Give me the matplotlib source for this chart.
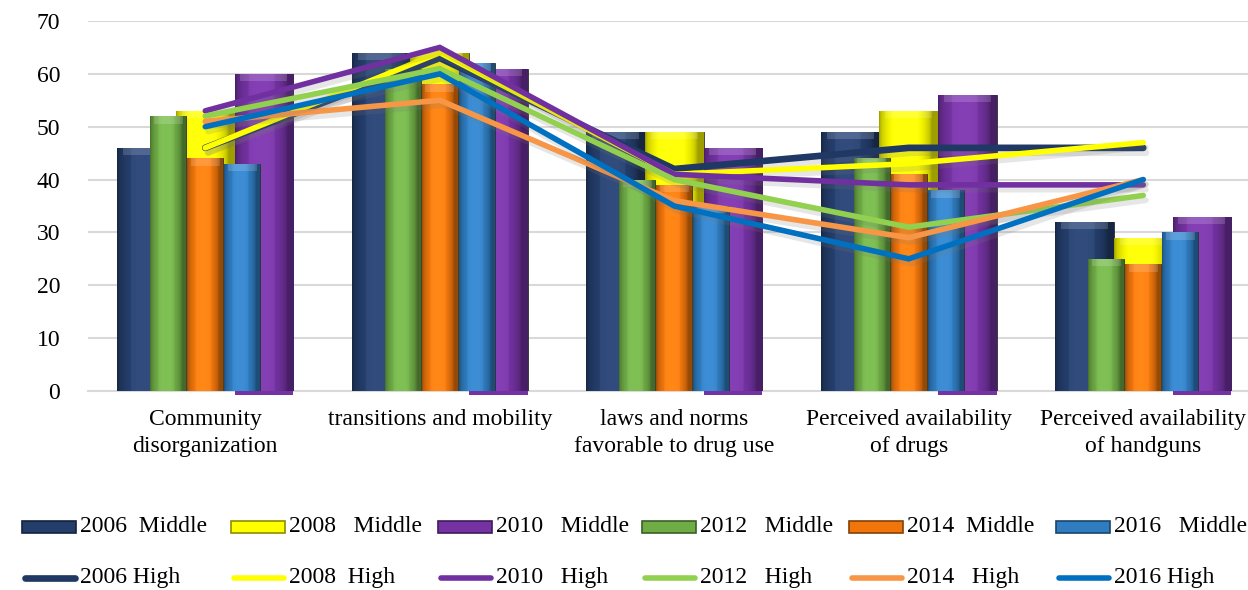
import numpy as np
import matplotlib
matplotlib.use("Agg")
import matplotlib.pyplot as plt
import matplotlib.patheffects as pe
from matplotlib.patches import Rectangle
from matplotlib.lines import Line2D
from matplotlib.colors import to_rgb

plt.rcParams['font.family'] = ['Liberation Serif', 'DejaVu Serif']

categories = ["Community\ndisorganization", "transitions and mobility",
              "laws and norms\nfavorable to drug use",
              "Perceived availability\nof drugs",
              "Perceived availability\nof handguns"]

# Middle-school bars
mid_2006 = [46, 64, 49, 49, 32]
mid_2008 = [53, 64, 49, 53, 29]
mid_2010 = [60, 61, 46, 56, 33]
mid_2012 = [52, 61, 40, 44, 25]
mid_2014 = [44, 58, 39, 41, 24]
mid_2016 = [43, 62, 35, 38, 30]

# High-school lines
high_2006 = [46, 63, 42, 46, 46]
high_2008 = [46, 64, 41, 43, 47]
high_2010 = [53, 65, 41, 39, 39]
high_2012 = [52, 61, 40, 31, 37]
high_2014 = [51, 55, 36, 29, 40]
high_2016 = [50, 60, 35, 25, 40]

mid_labels = ["2006  Middle", "2008   Middle", "2010   Middle",
              "2012   Middle", "2014  Middle", "2016   Middle"]
high_labels = ["2006 High", "2008  High", "2010   High",
               "2012   High", "2014   High", "2016 High"]

bar_colors = ["#243e6c", "#ffff00", "#7432a2", "#6fac46", "#f0760c", "#2f7cc0"]
line_colors = ["#1f3864", "#ffff00", "#7030a0", "#92d050", "#f79646", "#0070c0"]

FS = 17

W, H = 1248, 590
fig = plt.figure(figsize=(W / 100, H / 100), dpi=100)
ax = fig.add_axes([88 / W, 199 / H, 1172.5 / W, 370 / H])

x = np.arange(len(categories))


def shaded_bars(xpos, heights, width, color, z):
    base = np.array(to_rgb(color))
    t = np.linspace(0, 1, 64)
    prof = 0.62 + 0.45 * np.sin(np.pi * np.clip(t * 1.12, 0, 1)) ** 0.5
    prof = np.clip(prof, 0, 1.06)
    rgb = np.clip(base[None, :] * prof[:, None] + (prof[:, None] > 1) * 0.04, 0, 1)
    img = rgb[None, :, :]
    bars = ax.bar(xpos, heights, width, color=color, edgecolor="#2b2b2b",
                  linewidth=0.6, zorder=z)
    for b in bars:
        x0, y0 = b.get_x(), b.get_y()
        im = ax.imshow(img, extent=(x0, x0 + b.get_width(), y0, y0 + b.get_height()),
                       aspect="auto", zorder=z, interpolation="bicubic")
        im.set_clip_path(b)
        # lighter bevel on the top face
        hgt = b.get_height()
        ax.bar(x0 + b.get_width() / 2, min(1.4, hgt), b.get_width() * 0.8,
               bottom=hgt - min(1.4, hgt), color="white", alpha=0.16,
               linewidth=0, zorder=z + 0.01)
    return bars


# back row of wide bars
back = [mid_2006, mid_2008, mid_2010]
for i, (vals, off) in enumerate(zip(back, [-0.25, 0.0, 0.25])):
    shaded_bars(x + off, vals, 0.25, bar_colors[i], 2)

# purple base edge showing under the axis line
ax.bar(x + 0.25, [0.7] * len(x), 0.25, bottom=-0.7, color=bar_colors[2],
       linewidth=0, zorder=1.5, clip_on=False)

# front row of narrow bars
front = [mid_2012, mid_2014, mid_2016]
for i, (vals, off) in enumerate(zip(front, [-0.158, 0.0, 0.158])):
    shaded_bars(x + off, vals, 0.153, bar_colors[3 + i], 3)

shadow = [pe.SimpleLineShadow(offset=(2, -3.5), shadow_color="#777777", alpha=0.18),
          pe.Normal()]
highs = [high_2006, high_2008, high_2010, high_2012, high_2014, high_2016]
for i, vals in enumerate(highs):
    lw = 4.8 if i == 0 else 4.0
    ax.plot(x, vals, color=line_colors[i], lw=lw, solid_capstyle="round",
            solid_joinstyle="miter", zorder=4 + i * 0.1, path_effects=shadow)

ax.set_xlim(-0.5, len(categories) - 0.5)
ax.set_ylim(0, 70)
ax.set_yticks(range(0, 71, 10))
ax.yaxis.grid(True, color="#d9d9d9", lw=1.5)
ax.set_axisbelow(True)
for s in ["left", "right", "top"]:
    ax.spines[s].set_visible(False)
ax.spines["bottom"].set_color("#d9d9d9")
ax.spines["bottom"].set_linewidth(1.5)
ax.spines["bottom"].set_zorder(1)
ax.tick_params(axis="y", length=0, pad=20, labelsize=FS)
ax.tick_params(axis="x", length=0, pad=13, labelsize=FS)
ax.set_xticks(x)
ax.set_xticklabels(categories, linespacing=1.4)

# legend, two rows of six entries
entry_x = [22, 231, 438, 642, 849, 1056]
row1_y, row2_y = 527, 578


def fx(px):
    return px / W


def fy(py):
    return 1 - py / H


for i, ex in enumerate(entry_x):
    c = np.array(to_rgb(bar_colors[i]))
    fig.patches.append(Rectangle((fx(ex), fy(row1_y + 6)), fx(54), 12 / H,
                                 transform=fig.transFigure, facecolor=c,
                                 edgecolor=c * 0.55, linewidth=1.2))
    fig.text(fx(ex + 58), fy(row1_y), mid_labels[i], fontsize=FS,
             va="center", ha="left")
    fig.lines.append(Line2D([fx(ex + 3), fx(ex + 53)], [fy(row2_y)] * 2,
                            transform=fig.transFigure, color=line_colors[i],
                            lw=4.8 if i == 0 else 4.0, solid_capstyle="round"))
    fig.text(fx(ex + 58), fy(row2_y), high_labels[i], fontsize=FS,
             va="center", ha="left")

fig.savefig("out.png", dpi=100)
